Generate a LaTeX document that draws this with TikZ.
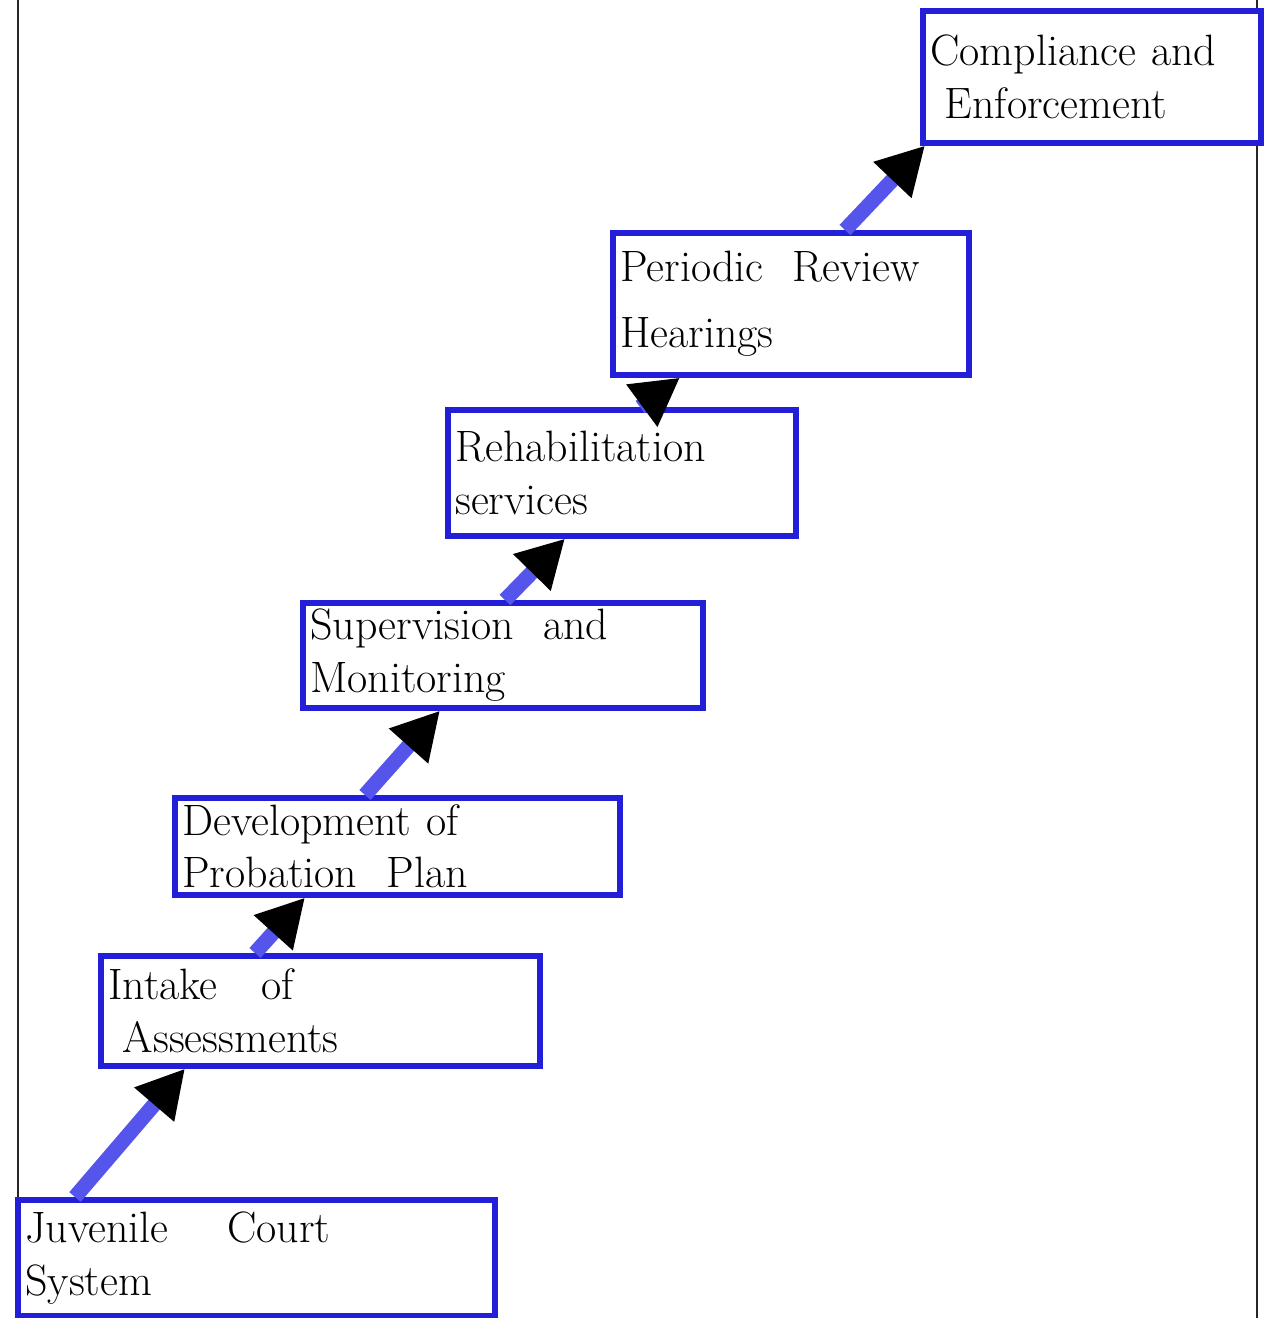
\documentclass[tikz,border=0pt]{standalone}
\usepackage{tikz}
\usetikzlibrary{arrows.meta,calc}
\definecolor{penblue}{RGB}{35,30,215}
\definecolor{markblue}{RGB}{85,85,235}

\begin{document}
\begin{tikzpicture}[x=0.02cm,y=-0.02cm]
\tikzstyle{every node}+=[font=\fontsize{25}{30}\selectfont]
\tikzstyle{stage}=[draw=penblue, line width=3.2pt, fill=white, anchor=north west, align=left, inner xsep=0.15cm, inner ysep=0pt]
\tikzstyle{flow}=[markblue, line width=8.5pt, -{Triangle[length=27pt,width=28pt,color=black]}]
\useasboundingbox (0,0) rectangle (1266,1318);
% page edges
\draw [black!85, line width=1.3pt] (18,0) -- (18,1200);
\draw [black!85, line width=1.3pt] (1257,0) -- (1257,1318);
% stages
\node [stage, minimum width=9.54cm, minimum height=2.32cm, text width=9.24cm] (court) at (15,1197) {Juvenile\quad\ Court\\ System};
\node [stage, minimum width=8.78cm, minimum height=2.2cm, text width=8.48cm] (intake) at (98,953) {Intake\quad of\\ \ Assessments};
\node [stage, minimum width=8.9cm, minimum height=1.94cm, text width=8.6cm] (plan) at (172,795) {Development of\\ Probation\ \ Plan};
\node [stage, minimum width=8cm, minimum height=2.1cm, text width=7.7cm] (super) at (300,600) {Supervision\ \ and\\ Monitoring};
\node [stage, minimum width=6.96cm, minimum height=2.52cm, text width=6.66cm] (rehab) at (445,407) {Rehabilitation\\ services};
\node [stage, minimum width=7.12cm, minimum height=2.84cm, text width=6.82cm] (review) at (610,230) {Periodic\ \ Review\\[0.25cm] Hearings};
\node [stage, minimum width=6.76cm, minimum height=2.64cm, text width=6.46cm] (comply) at (920,8) {Compliance and\\ \ Enforcement};
% arrows
\draw [flow] ($(court.north west)+(60,0)$) -- ($(intake.south west)+(87,0)$);
\draw [flow] ($(intake.north west)+(157,0)$) -- ($(plan.south west)+(133,0)$);
\draw [flow] ($(plan.north west)+(193,0)$) -- ($(super.south west)+(140,0)$);
\draw [flow] ($(super.north west)+(205,0)$) -- ($(rehab.south west)+(120,0)$);
\draw [flow] ($(rehab.north west)+(195,0)$) -- ($(review.south west)+(70,0)$);
\draw [flow] ($(review.north west)+(235,0)$) -- ($(comply.south west)+(5,0)$);
\end{tikzpicture}
\end{document}
